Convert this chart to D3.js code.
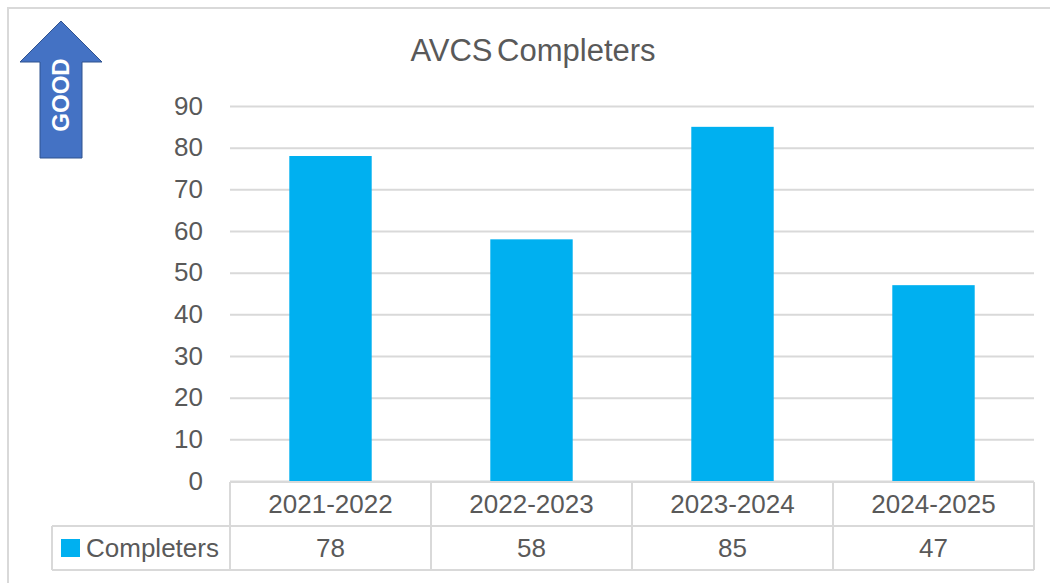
<!DOCTYPE html>
<html>
<head>
<meta charset="utf-8">
<script src="https://cdn.jsdelivr.net/npm/d3@7"></script>
<style>
  body { margin: 0; background: #fff; }
  svg { display: block; font-family: "Liberation Sans", Arial, sans-serif; }
</style>
</head>
<body>
<div id="chart"></div>
<script>
const categories = ['2021-2022', '2022-2023', '2023-2024', '2024-2025'];
const completers = [78, 58, 85, 47];
const yTicks = [0, 10, 20, 30, 40, 50, 60, 70, 80, 90];
const seriesName = 'Completers';
const title = 'AVCS Completers';

const width = 1050, height = 583;
const plot = { left: 230, right: 1034, top: 106, bottom: 481 };
const rowH = 44;
const legendLeft = 52;
const textColor = '#595959';
const gridColor = '#d9d9d9';
const barColor = '#00b0f0';
const fontSize = 26;

const svg = d3.select('#chart').append('svg')
    .attr('width', width)
    .attr('height', height);

// chart frame (only top and left edges visible)
svg.append('path')
    .attr('d', `M8,${height} V8 H${width}`)
    .attr('fill', 'none')
    .attr('stroke', gridColor)
    .attr('stroke-width', 2);

// Scales
const x = d3.scaleBand()
    .domain(categories)
    .range([plot.left, plot.right])
    .paddingInner(0.59)
    .paddingOuter(0.295);

const band = d3.scaleBand()
    .domain(categories)
    .range([plot.left, plot.right]);

const y = d3.scaleLinear()
    .domain([0, 90])
    .range([plot.bottom, plot.top]);

// Title
svg.append('text')
    .attr('x', 533)
    .attr('y', 61)
    .attr('text-anchor', 'middle')
    .attr('fill', textColor)
    .attr('font-size', 31)
    .attr('word-spacing', -4)
    .text(title);

// Gridlines + y axis labels
const yAxis = svg.append('g')
    .attr('transform', `translate(${plot.left},0)`)
    .call(d3.axisLeft(y).tickValues(yTicks).tickSize(-(plot.right - plot.left)).tickPadding(27));
yAxis.select('.domain').remove();
yAxis.selectAll('.tick line').attr('stroke', gridColor).attr('stroke-width', 2);
yAxis.selectAll('.tick text')
    .attr('fill', textColor)
    .attr('font-size', fontSize)
    .attr('font-family', '"Liberation Sans", Arial, sans-serif');

// Bars
svg.selectAll('.bar')
    .data(completers)
    .enter()
    .append('rect')
    .attr('class', 'bar')
    .attr('x', (d, i) => x(categories[i]))
    .attr('y', d => y(d))
    .attr('width', x.bandwidth())
    .attr('height', d => y(0) - y(d))
    .attr('fill', barColor);

// Data table
const tableTop = plot.bottom + 1;
const table = svg.append('g')
    .attr('fill', 'none')
    .attr('stroke', gridColor)
    .attr('stroke-width', 2);

table.append('path')
    .attr('d', `M${plot.left},${tableTop} H${plot.right}`);
table.append('path')
    .attr('d', `M${legendLeft},${tableTop + rowH} H${plot.right} M${legendLeft},${tableTop + 2 * rowH} H${plot.right}`);
table.append('path')
    .attr('d', `M${legendLeft},${tableTop + rowH} V${tableTop + 2 * rowH}`);
categories.forEach(c => {
    table.append('path')
        .attr('d', `M${band(c)},${tableTop} V${tableTop + 2 * rowH}`);
});
table.append('path')
    .attr('d', `M${plot.right},${tableTop} V${tableTop + 2 * rowH}`);

// category labels
svg.selectAll('.cat')
    .data(categories)
    .enter()
    .append('text')
    .attr('x', d => band(d) + band.bandwidth() / 2)
    .attr('y', tableTop + rowH / 2 + 9)
    .attr('text-anchor', 'middle')
    .attr('fill', textColor)
    .attr('font-size', fontSize)
    .text(d => d);

// values
svg.selectAll('.val')
    .data(completers)
    .enter()
    .append('text')
    .attr('x', (d, i) => band(categories[i]) + band.bandwidth() / 2)
    .attr('y', tableTop + rowH * 1.5 + 9)
    .attr('text-anchor', 'middle')
    .attr('fill', textColor)
    .attr('font-size', fontSize)
    .text(d => d);

// legend key
svg.append('rect')
    .attr('x', 61)
    .attr('y', tableTop + rowH * 1.5 - 9)
    .attr('width', 19)
    .attr('height', 18)
    .attr('fill', barColor);
svg.append('text')
    .attr('x', 86)
    .attr('y', tableTop + rowH * 1.5 + 9)
    .attr('fill', textColor)
    .attr('font-size', fontSize)
    .text(seriesName);

// GOOD arrow
const arrow = svg.append('g');
arrow.append('path')
    .attr('d', 'M61,21 L102,62 L82,62 L82,158 L40,158 L40,62 L20,62 Z')
    .attr('fill', '#4472c4')
    .attr('stroke', '#2f528f')
    .attr('stroke-width', 1);
arrow.append('text')
    .attr('transform', 'translate(69,95) rotate(-90)')
    .attr('text-anchor', 'middle')
    .attr('fill', '#fff')
    .attr('font-weight', 'bold')
    .attr('font-size', 24)
    .attr('font-family', '"Liberation Sans", Arial, sans-serif')
    .text('GOOD');
</script>
</body>
</html>
